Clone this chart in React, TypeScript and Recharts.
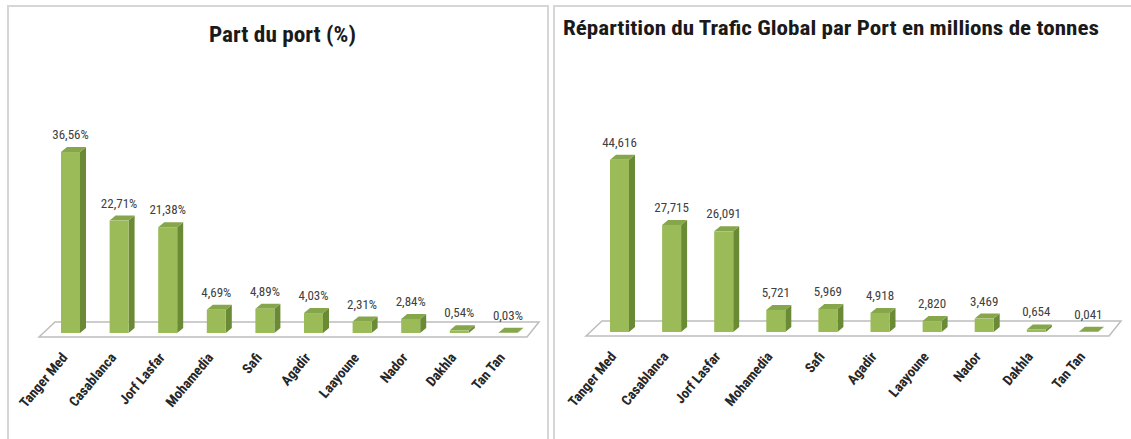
import React from 'react';
import * as R from 'recharts';
import { BarChart, Bar, XAxis, YAxis, LabelList } from 'recharts';

const ports = ['Tanger Med', 'Casablanca', 'Jorf Lasfar', 'Mohamedia', 'Safi', 'Agadir', 'Laayoune', 'Nador', 'Dakhla', 'Tan Tan'];
const partValues = [36.56, 22.71, 21.38, 4.69, 4.89, 4.03, 2.31, 2.84, 0.54, 0.03];
const traficValues = [44.616, 27.715, 26.091, 5.721, 5.969, 4.918, 2.82, 3.469, 0.654, 0.041];

const partData = ports.map((p, i) => ({ port: p, value: partValues[i] }));
const traficData = ports.map((p, i) => ({ port: p, value: traficValues[i] }));

const FONT = '"Liberation Sans Narrow", "Roboto Condensed", Roboto, sans-serif';
const DX = 6;
const DY = 5;

function Bar3D(props: any) {
  const { x, y, width, height } = props;
  if (x == null || y == null) return null;
  const w = width;
  const h = Math.max(height, 0);
  return (
    <g>
      <polygon
        points={`${x + w},${y} ${x + w + DX},${y - DY} ${x + w + DX},${y + h - DY} ${x + w},${y + h}`}
        fill="#6b8a36"
      />
      <polygon
        points={`${x},${y} ${x + DX},${y - DY} ${x + w + DX},${y - DY} ${x + w},${y}`}
        fill="#86a64b"
      />
      <rect x={x} y={y} width={w} height={h} fill="#9bbb59" />
    </g>
  );
}

function Floor() {
  const usePA = (R as any).usePlotArea;
  const pa = usePA ? usePA() : null;
  if (!pa) return null;
  const l = pa.x;
  const r = pa.x + pa.width;
  const b = pa.y + pa.height;
  const pts = `${l - 7},${b + 4} ${l + 9},${b - 11} ${r + 7},${b - 11} ${r - 5},${b + 4}`;
  return <polygon points={pts} fill="#ffffff" stroke="#bdbdbd" strokeWidth={1.5} />;
}

function makeLabel(fmt: (v: number) => string) {
  return (props: any) => {
    const { x, y, width, value } = props;
    return (
      <text x={x + width / 2} y={y - 13} textAnchor="middle" fontSize={13} fill="#404040" fontFamily={FONT}>
        {fmt(value)}
      </text>
    );
  };
}

function Tick(props: any) {
  const { x, y, payload } = props;
  const ax = x - 2;
  const ay = y + 17;
  return (
    <text
      x={ax}
      y={ay}
      textAnchor="end"
      fontSize={14}
      fontWeight="bold"
      fill="#262626"
      fontFamily={FONT}
      transform={`rotate(-50, ${ax}, ${ay})`}
    >
      {payload.value}
    </text>
  );
}

const fmtPart = (v: number) => v.toFixed(2).replace('.', ',') + '%';
const fmtTrafic = (v: number) => v.toFixed(3).replace('.', ',');

function PortChart(props: { data: any[]; width: number; margin: any; max: number; fmt: (v: number) => string }) {
  const { data, width, margin, max, fmt } = props;
  return (
    <BarChart width={width} height={439} data={data} margin={margin} barCategoryGap={0}>
      <XAxis dataKey="port" interval={0} axisLine={false} tickLine={false} height={100} tick={<Tick />} />
      <YAxis hide domain={[0, max]} />
      <Floor />
      <Bar dataKey="value" barSize={19} shape={<Bar3D />} isAnimationActive={false}>
        <LabelList dataKey="value" content={makeLabel(fmt)} />
      </Bar>
    </BarChart>
  );
}

export default function App() {
  return (
    <div style={{ position: 'absolute', left: 0, top: 0, width: 1131, height: 439, background: '#fff', overflow: 'hidden' }}>
      <div style={{ position: 'absolute', left: 7, top: 5, width: 538, height: 440, border: '2px solid #d6d6d6', boxSizing: 'content-box' }} />
      <div style={{ position: 'absolute', left: 553, top: 5, width: 600, height: 440, border: '2px solid #d6d6d6' }} />
      <div style={{ position: 'absolute', left: 0, top: 0 }}>
        <PortChart data={partData} width={548} margin={{ top: 135, right: 16, bottom: 6, left: 46 }} max={40} fmt={fmtPart} />
      </div>
      <div style={{ position: 'absolute', left: 553, top: 0 }}>
        <PortChart data={traficData} width={578} margin={{ top: 139, right: 17, bottom: 7, left: 40 }} max={50} fmt={fmtTrafic} />
      </div>
      <svg style={{ position: 'absolute', left: 0, top: 0 }} width={1131} height={60}>
        <text x={209} y={42} textLength={147} lengthAdjust="spacingAndGlyphs" fontSize={22} fontWeight="bold" fill="#1a1a1a" fontFamily={FONT}>
          Part du port (%)
        </text>
        <text x={563} y={35} textLength={536} lengthAdjust="spacingAndGlyphs" fontSize={21} fontWeight="bold" fill="#1a1a1a" fontFamily={FONT}>
          Répartition du Trafic Global par Port en millions de tonnes
        </text>
      </svg>
    </div>
  );
}
